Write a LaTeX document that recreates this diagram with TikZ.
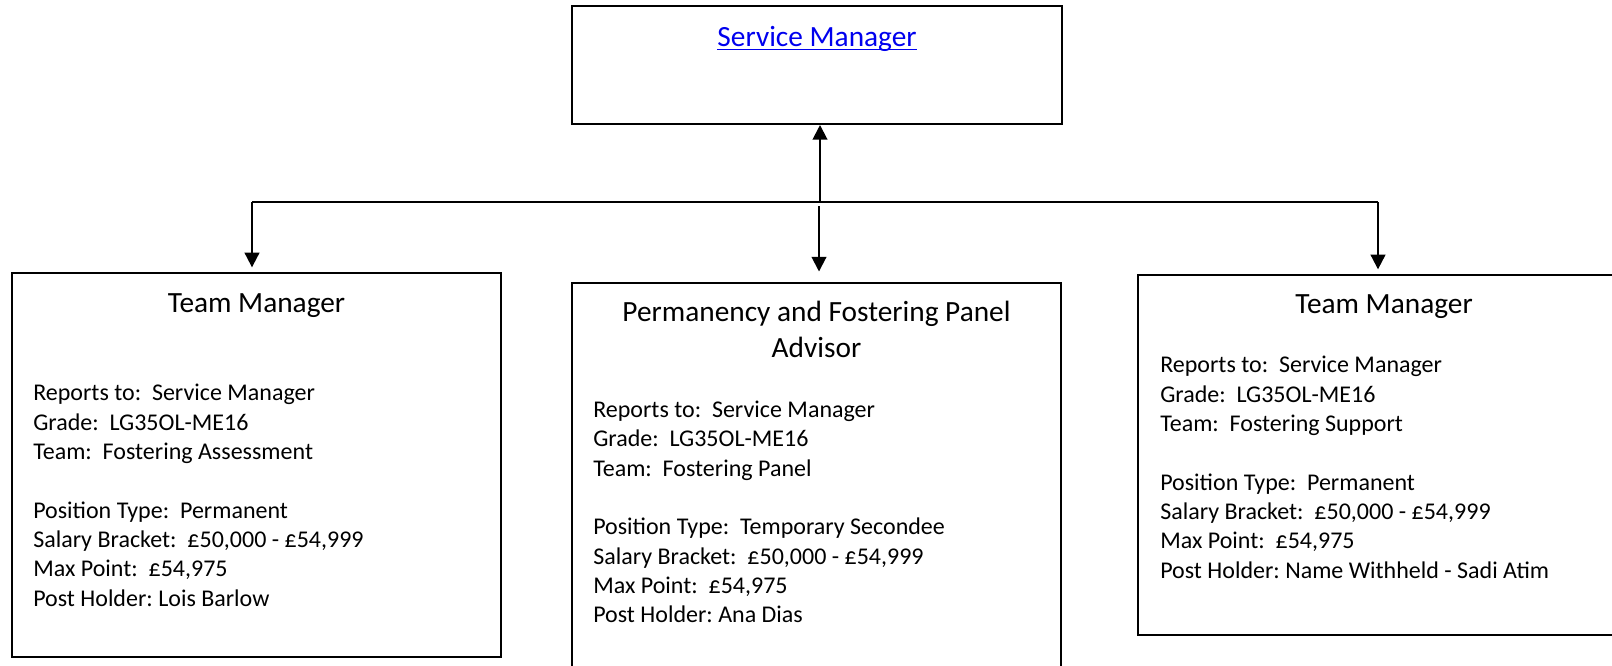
\documentclass[tikz,border=0pt]{standalone}
\usepackage{fontspec}
\setmainfont{Carlito}
\usetikzlibrary{arrows.meta, positioning}
\definecolor{linkblue}{RGB}{0,0,238}
\newcommand{\wordul}[1]{\leavevmode\setbox0\hbox{#1}\rlap{\rule[-3pt]{\wd0}{1.1pt}}\box0}
\tikzset{
x=0.75pt, y=-0.75pt, % one unit is one pixel of the page, y runs downwards
post/.style={draw, line width=1.5pt, inner sep=0pt}, % the box of each post
heading/.style={font=\fontsize{22}{26.5}\selectfont, inner sep=0pt, align=center, anchor=base}, % job title
details/.style={font=\fontsize{18}{22}\selectfont, inner sep=0pt, align=left, anchor=base west}, % lines under the title (placed by the last line)
link/.style={line width=1.5pt, -{Triangle[length=11pt, width=11pt]}}, % reporting arrows
bar/.style={line width=1.5pt}, % the horizontal line
}

\begin{document}
\begin{tikzpicture}
\clip (0,0) rectangle (1612,665);
\frenchspacing
% boxes
\node[post, minimum width=367.5pt, minimum height=88.5pt] (svc) at (817,65) {};
\node[post, minimum width=366.75pt, minimum height=288pt] (tmA) at (256.5,465) {};
\node[post, minimum width=366.75pt, minimum height=305pt] (pfa) at (816.5,486.5) {};
\node[post, minimum width=369pt, minimum height=270pt] (tmB) at (1384,455) {};
% titles
\node[heading, text=linkblue] (svcT) at (817,46) {\wordul{Service Manager}};
\node[heading] (tmAT) at (256.5,312) {Team Manager};
\node[heading] (pfaT) at (816.5,357) {Permanency and Fostering Panel\\Advisor};
\node[heading] (tmBT) at (1384,313) {Team Manager};
% details
\node[details] (tmAD) at (33,606) {Reports to:\ \ Service Manager\\
Grade:\ \ LG35OL-ME16\\
Team:\ \ Fostering Assessment\\[22pt]
Position Type:\ \ Permanent\\
Salary Bracket:\ \ £50,000 - £54,999\\
Max Point:\ \ £54,975\\
Post Holder: Lois Barlow};
\node[details] (pfaD) at (593,622.7) {Reports to:\ \ Service Manager\\
Grade:\ \ LG35OL-ME16\\
Team:\ \ Fostering Panel\\[22pt]
Position Type:\ \ Temporary Secondee\\
Salary Bracket:\ \ £50,000 - £54,999\\
Max Point:\ \ £54,975\\
Post Holder: Ana Dias};
\node[details] (tmBD) at (1160,578.3) {Reports to:\ \ Service Manager\\
Grade:\ \ LG35OL-ME16\\
Team:\ \ Fostering Support\\[22pt]
Position Type:\ \ Permanent\\
Salary Bracket:\ \ £50,000 - £54,999\\
Max Point:\ \ £54,975\\
Post Holder: Name Withheld - Sadi Atim};
% connectors
\coordinate (hub) at (820,202);
\coordinate (hubM) at (819,206);
\coordinate (barL) at (252,202);
\coordinate (barR) at (1378,202);
\draw[bar] (barL) -- (barR);
\draw[link] (hub) -- (hub |- svc.south);
\draw[link, shorten >=3.5pt] (barL) -- (barL |- tmA.north);
\draw[link, shorten >=8pt] (hubM) -- (hubM |- pfa.north);
\draw[link, shorten >=3.5pt] (barR) -- (barR |- tmB.north);
\end{tikzpicture}
\end{document}
